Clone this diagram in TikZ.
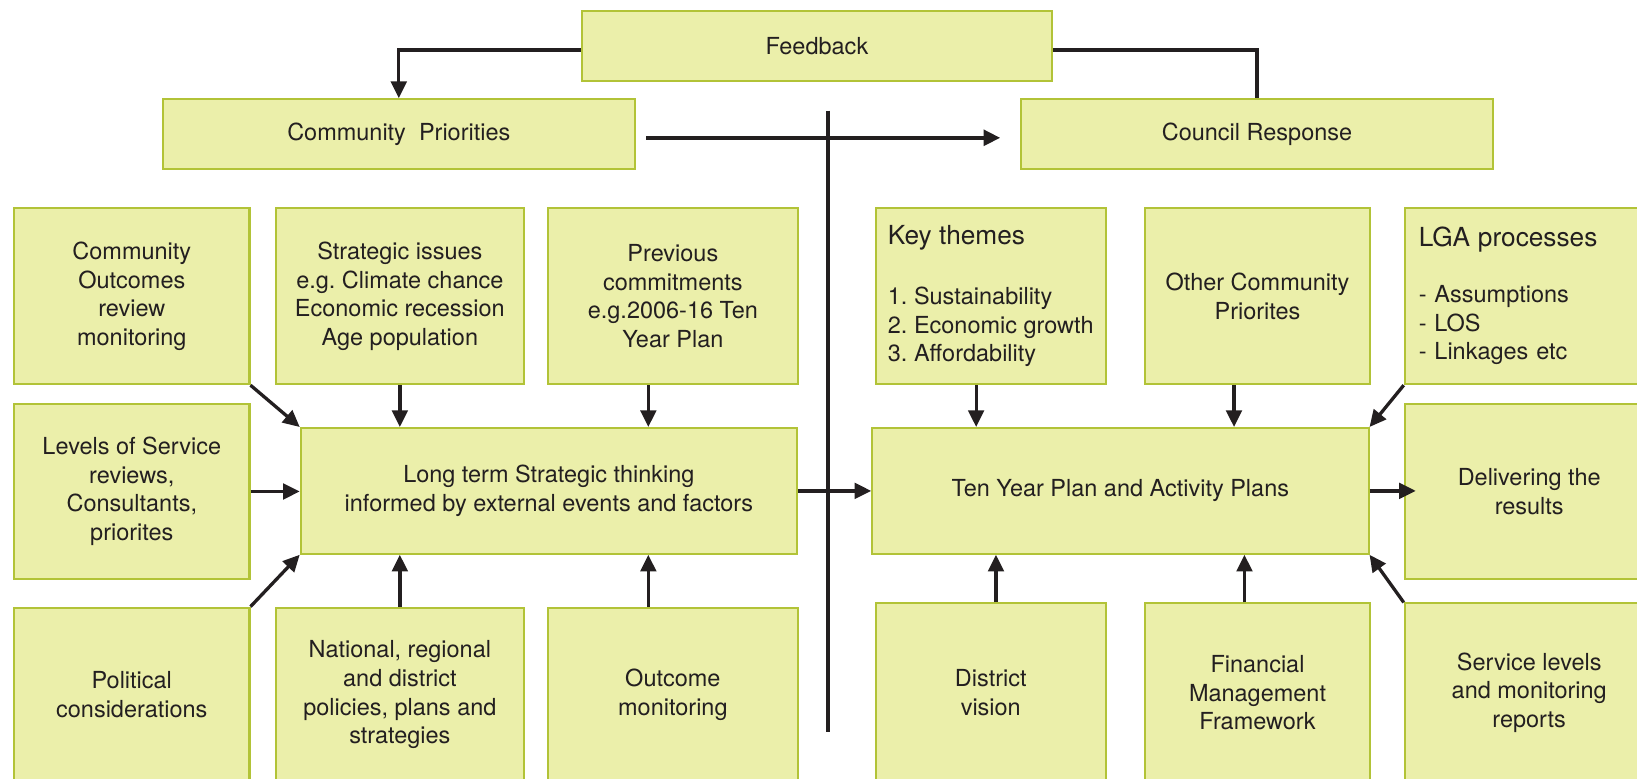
\documentclass[tikz,border=0pt]{standalone}
\usepackage{fontspec}
\setmainfont{TeX Gyre Heros}
\usetikzlibrary{arrows.meta}
\definecolor{boxfill}{RGB}{235,239,170}
\definecolor{boxline}{RGB}{178,195,55}
\definecolor{ink}{RGB}{35,31,32}
\newcommand{\boxhead}[1]{{\fontsize{14.3pt}{17pt}\selectfont #1}}

\begin{document}
\begin{tikzpicture}[x=0.02cm, y=-0.02cm,
  font=\fontsize{12.8pt}{15.6pt}\selectfont\frenchspacing, text=ink,
  box/.style={draw=boxline, line width=1.1pt, fill=boxfill, align=center, inner sep=0pt},
  wide/.style={box, minimum width=9.04cm, minimum height=1.34cm},
  mid/.style={box, minimum width=9.51cm, minimum height=2.41cm},
  arr/.style={draw=ink, line width=1.8pt, -{Triangle[length=0.32cm, width=0.3cm]}},
  link/.style={draw=ink, line width=1.8pt}]

\useasboundingbox (0,0) rectangle (1568,746);
\clip (0,0) rectangle (1568,746);

% Feedback loop
\node[wide, minimum width=9.02cm] (feedback) at (782.5,44) {Feedback};
\node[wide] (compri) at (382,128.5) {Community\ \ Priorities};
\node[wide] (council) at (1204,128.5) {Council Response};

% Left block
\node[box, minimum width=4.51cm, minimum height=3.37cm] (comout) at (126.25,283.75) {Community\\Outcomes\\review\\monitoring};
\node[box, minimum width=4.76cm, minimum height=3.37cm] (strat) at (383,283.75) {Strategic issues\\e.g. Climate chance\\Economic recession\\Age population};
\node[box, minimum width=4.78cm, minimum height=3.37cm] (prev) at (644.5,283.75) {Previous\\commitments\\e.g.2006-16 Ten\\Year Plan};
\node[box, minimum width=4.51cm, minimum height=3.35cm] (levels) at (126.25,470.75) {Levels of Service\\reviews,\\Consultants,\\priorites};
\node[mid] (longt) at (525.75,470.2) {Long term Strategic thinking\\informed by external events and factors};
\node[box, minimum width=4.51cm, minimum height=3.34cm] (polit) at (126.25,665.5) {Political\\considerations};
\node[box, minimum width=4.76cm, minimum height=3.34cm] (natnl) at (383,665.5) {National, regional\\and district\\policies, plans and\\strategies};
\node[box, minimum width=4.78cm, minimum height=3.34cm] (outmon) at (644.5,665.5) {Outcome\\monitoring};

% Right block
\node[box, align=left, minimum width=4.4cm, minimum height=3.37cm] (keyth) at (949,283.75) {\boxhead{Key themes}\\[0.6cm]1. Sustainability\\2. Economic growth\\3. Affordability};
\node[box, minimum width=4.3cm, minimum height=3.37cm] (other) at (1204.5,283.75) {Other Community\\Priorites};
\node[box, align=left, text width=4.23cm, inner xsep=0.27cm, minimum height=3.37cm] (lga) at (1464.75,283.75) {\boxhead{LGA processes}\\[0.52cm]- Assumptions\\- LOS\\- Linkages etc};
\node[mid] (tenyr) at (1073.15,470.2) {Ten Year Plan and Activity Plans};
\node[box, minimum width=4.77cm, minimum height=3.35cm] (deliv) at (1464.75,470.75) {Delivering the\\results};
\node[box, minimum width=4.4cm, minimum height=3.42cm] (distr) at (949,663.5) {District\\vision};
\node[box, minimum width=4.3cm, minimum height=3.42cm] (financ) at (1204.5,663.5) {Financial\\Management\\Framework};
\node[box, minimum width=4.77cm, minimum height=3.42cm] (servlv) at (1464.75,663.5) {Service levels\\and monitoring\\reports};

% Arrow columns
\coordinate (ca) at (621,0);
\coordinate (cb) at (935,0);
\coordinate (cc) at (954,0);
\coordinate (cd) at (1182,0);
\coordinate (ce) at (1192,0);
\coordinate (spinetop) at (793,106);
\coordinate (spinebot) at (793,701);

% Top connectors
\draw[arr] ([yshift=-0.08cm]feedback.west) -| (compri.north);
\draw[link] ([yshift=-0.08cm]feedback.east) -| (council.north);
\draw[arr, line width=2.1pt, shorten <=0.2cm, shorten >=0.38cm] ([yshift=-0.07cm]compri.east) -- ([yshift=-0.07cm]council.west);
\draw[link, line width=2.1pt] (spinetop) -- (spinebot);

% Into long term thinking
\draw[arr] (comout.south east) -- (longt.north west);
\draw[arr] (strat.south) -- (strat.south |- longt.north);
\draw[arr] (prev.south -| ca) -- (longt.north -| ca);
\draw[arr] (levels.east) -- (levels.east -| longt.west);
\draw[arr] (polit.north east) -- (longt.south west);
\draw[arr] (natnl.north) -- (natnl.north |- longt.south);
\draw[arr] (outmon.north -| ca) -- (longt.south -| ca);
\draw[arr] (longt.east) -- (tenyr.west);

% Into ten year plan
\draw[arr] (keyth.south -| cb) -- (tenyr.north -| cb);
\draw[arr] (other.south -| cd) -- (tenyr.north -| cd);
\draw[arr] (lga.south west) -- (tenyr.north east);
\draw[arr] (distr.north -| cc) -- (tenyr.south -| cc);
\draw[arr] (financ.north -| ce) -- (tenyr.south -| ce);
\draw[arr] (servlv.north west) -- (tenyr.south east);
\draw[arr, shorten >=-0.23cm] (tenyr.east) -- (tenyr.east -| deliv.west);

\end{tikzpicture}
\end{document}
